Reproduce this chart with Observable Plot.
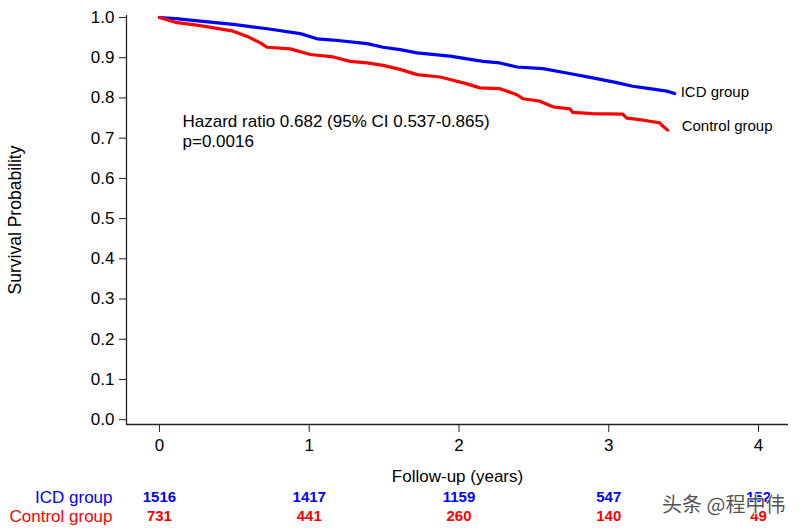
<!DOCTYPE html>
<html>
<head>
<meta charset="utf-8">
<script src="https://cdn.jsdelivr.net/npm/d3@7"></script>
<script src="https://cdn.jsdelivr.net/npm/@observablehq/plot@0.6"></script>
<style>
  html, body { margin: 0; padding: 0; background: #fff; }
  #chart svg { display: block; }
</style>
</head>
<body>
<div id="chart"></div>
<script>
// ---- Data ----
const years = [0, 1, 2, 3, 4];
const yTicks = [0, 0.1, 0.2, 0.3, 0.4, 0.5, 0.6, 0.7, 0.8, 0.9, 1.0];

const groups = ["ICD group", "Control group"];
const groupColors = ["#0000ff", "#ff0000"];

const icdAtRisk = [1516, 1417, 1159, 547, 152];
const controlAtRisk = [731, 441, 260, 140, 49];

const icdTime = [0, 0.107, 0.273, 0.493, 0.72, 0.94, 1.053, 1.16, 1.387, 1.493, 1.607, 1.72, 1.94, 2.16, 2.273, 2.387, 2.56, 2.72, 2.893, 3.053, 3.16, 3.273, 3.387, 3.44];
const icdSurv = [1.0, 0.997, 0.991, 0.983, 0.972, 0.960, 0.947, 0.944, 0.935, 0.926, 0.920, 0.912, 0.904, 0.891, 0.887, 0.877, 0.873, 0.862, 0.850, 0.838, 0.829, 0.823, 0.817, 0.811];

const controlTime = [0, 0.107, 0.273, 0.493, 0.587, 0.673, 0.72, 0.873, 1.007, 1.16, 1.273, 1.387, 1.493, 1.607, 1.72, 1.873, 1.94, 2.053, 2.14, 2.273, 2.387, 2.427, 2.54, 2.627, 2.74, 2.76, 2.893, 3.093, 3.12, 3.207, 3.273, 3.34, 3.36, 3.393];
const controlSurv = [1.0, 0.988, 0.980, 0.966, 0.953, 0.937, 0.926, 0.922, 0.908, 0.902, 0.891, 0.887, 0.881, 0.871, 0.858, 0.852, 0.846, 0.835, 0.825, 0.823, 0.808, 0.798, 0.792, 0.778, 0.773, 0.764, 0.761, 0.760, 0.750, 0.746, 0.742, 0.738, 0.730, 0.720];

const hrText = "Hazard ratio 0.682 (95% CI 0.537-0.865)\np=0.0016";
const hrPos = {x: 0.154, y: 0.719};
const watermark = "头条 @程中伟";

// ---- Build tables ----
const icd = icdTime.map((t, i) => ({t, s: icdSurv[i]}));
const control = controlTime.map((t, i) => ({t, s: controlSurv[i]}));
const xDomain = [-0.22, 4.2];
const yDomain = [-0.012, 1.005];
const font = "'Liberation Sans', Arial, Helvetica, sans-serif";

const chart = Plot.plot({
  width: 801,
  height: 531,
  marginLeft: 126,
  marginRight: 13,
  marginTop: 15,
  marginBottom: 107,
  style: {fontFamily: font, background: "#fff", color: "#000"},
  x: {domain: xDomain},
  y: {domain: yDomain},
  marks: [
    // axis lines
    Plot.ruleX([xDomain[0]], {stroke: "#222", strokeWidth: 1.3}),
    Plot.ruleY([yDomain[0]], {stroke: "#222", strokeWidth: 1.3}),
    Plot.axisY({ticks: yTicks, tickFormat: d3.format(".1f"), tickSize: 7, tickPadding: 5, fontSize: 17, label: null, stroke: "#222"}),
    Plot.axisX({ticks: years, tickFormat: d3.format("d"), tickSize: 8, tickPadding: 6, fontSize: 17, label: null, stroke: "#222"}),
    // y label
    Plot.text(["Survival Probability"], {frameAnchor: "left", dx: -111, rotate: -90, textAnchor: "middle", lineAnchor: "middle", fontSize: 17.5, fill: "#000"}),
    // x label
    Plot.text(["Follow-up (years)"], {frameAnchor: "bottom", dy: 52, lineAnchor: "middle", fontSize: 17, fill: "#000"}),
    // curves
    Plot.line(icd, {x: "t", y: "s", stroke: groupColors[0], strokeWidth: 3.2}),
    Plot.line(control, {x: "t", y: "s", stroke: groupColors[1], strokeWidth: 3.2}),
    // group labels at curve ends
    Plot.text([icd[icd.length - 1]], {x: "t", y: "s", text: () => groups[0], dx: 6, dy: -1, textAnchor: "start", fontSize: 15, fill: "#000"}),
    Plot.text([control[control.length - 1]], {x: "t", y: "s", text: () => groups[1], dx: 14, dy: -4, textAnchor: "start", fontSize: 15, fill: "#000"}),
    // HR annotation
    Plot.text([hrText], {x: () => hrPos.x, y: () => hrPos.y, textAnchor: "start", lineHeight: 1.18, fontSize: 17, fill: "#000"}),
    // numbers at risk
    Plot.text([groups[0]], {frameAnchor: "bottom-left", dx: -14, dy: 72.7, textAnchor: "end", lineAnchor: "middle", fontSize: 17, fill: groupColors[0]}),
    Plot.text([groups[1]], {frameAnchor: "bottom-left", dx: -14, dy: 92, textAnchor: "end", lineAnchor: "middle", fontSize: 17, fill: groupColors[1]}),
    Plot.text(years, {x: d => d, text: (d, i) => String(icdAtRisk[i]), frameAnchor: "bottom", dy: 72.7, lineAnchor: "middle", fontSize: 15, fontWeight: "bold", fill: groupColors[0]}),
    Plot.text(years, {x: d => d, text: (d, i) => String(controlAtRisk[i]), frameAnchor: "bottom", dy: 92, lineAnchor: "middle", fontSize: 15, fontWeight: "bold", fill: groupColors[1]}),
    // watermark
    Plot.text([watermark], {frameAnchor: "bottom-right", dx: -3, dy: 81, textAnchor: "end", lineAnchor: "middle", fontSize: 20, fontFamily: "'Noto Sans CJK SC', sans-serif", fill: "#333", fillOpacity: 0.85, stroke: "#fff", strokeWidth: 1.5})
  ]
});
document.getElementById("chart").appendChild(chart);
</script>
</body>
</html>
